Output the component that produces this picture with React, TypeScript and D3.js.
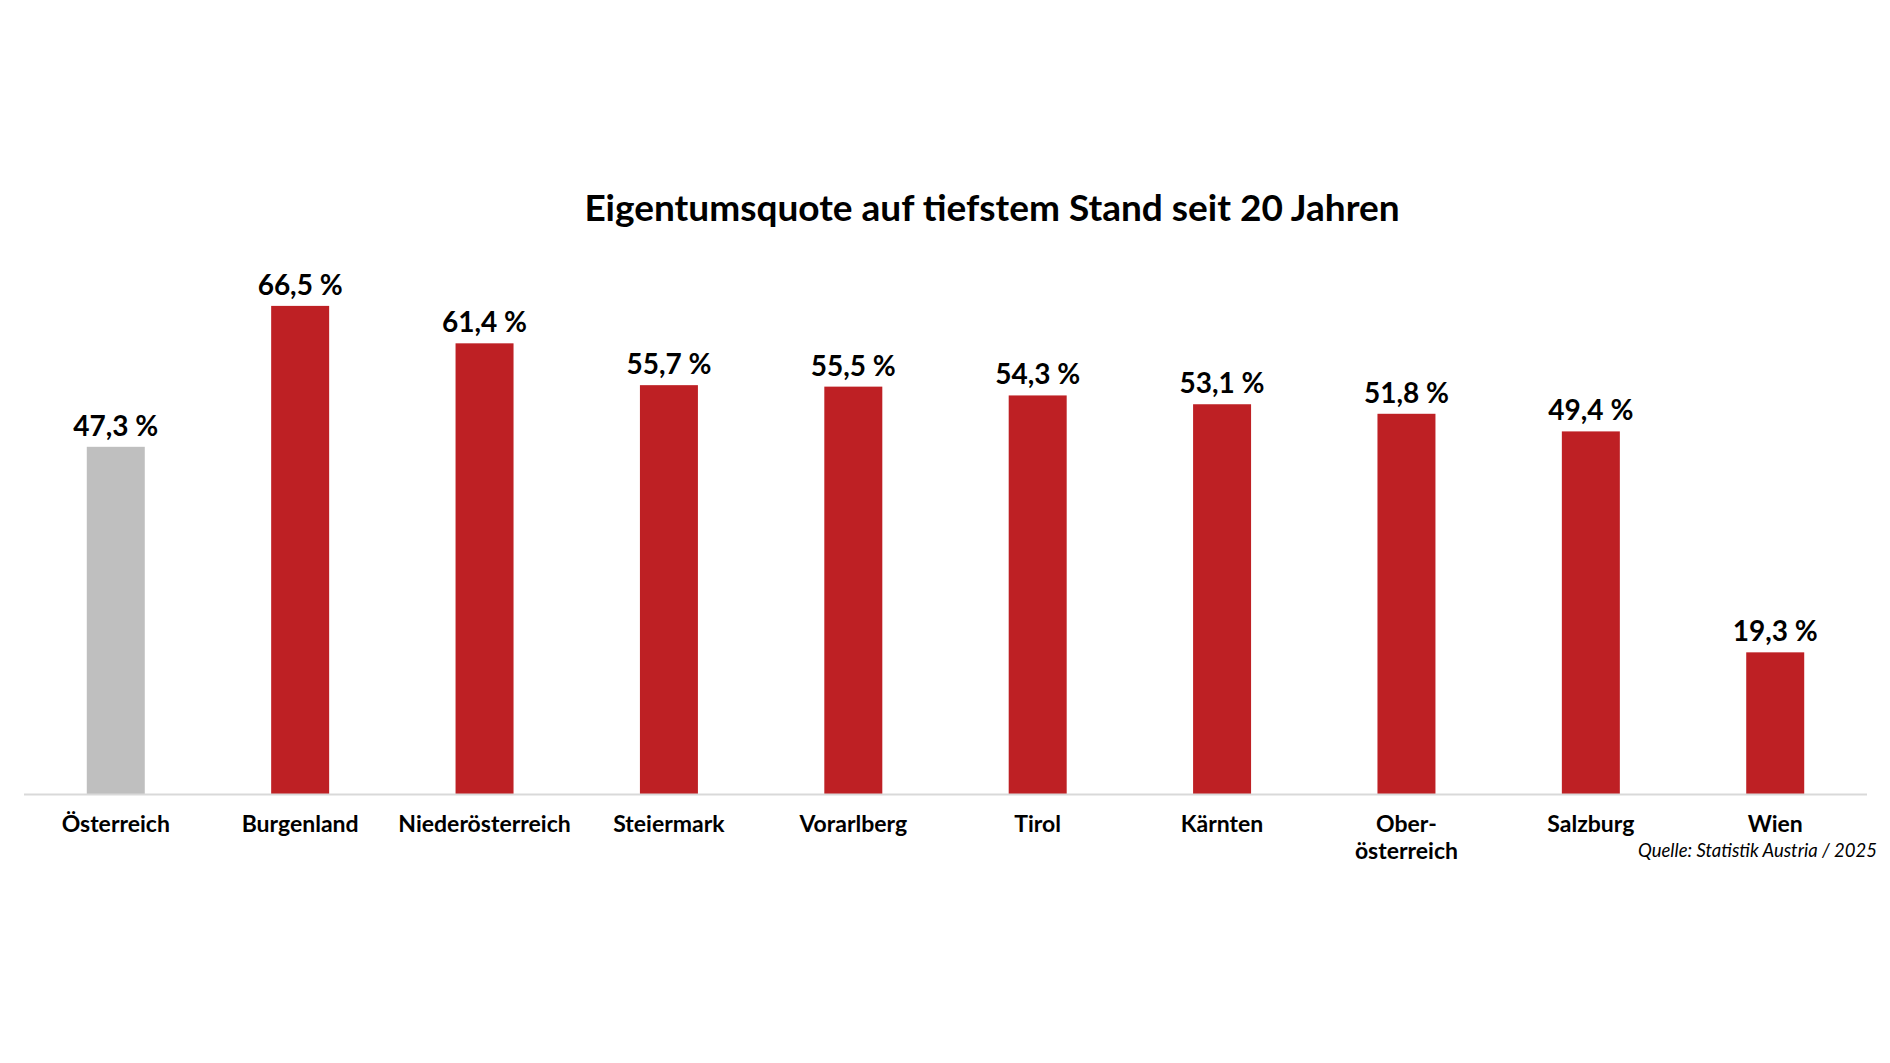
import * as d3 from "d3";
import { useEffect, useRef } from "react";

const regions = [
  "Österreich",
  "Burgenland",
  "Niederösterreich",
  "Steiermark",
  "Vorarlberg",
  "Tirol",
  "Kärnten",
  "Ober-\nösterreich",
  "Salzburg",
  "Wien",
];
const shares = [47.3, 66.5, 61.4, 55.7, 55.5, 54.3, 53.1, 51.8, 49.4, 19.3];
const title = "Eigentumsquote auf tiefstem Stand seit 20 Jahren";
const source = "Quelle: Statistik Austria / 2025";

const RED = "#be2024";
const GREY = "#bfbfbf";
const FONT = "Lato, 'Noto Sans', sans-serif";

export default function App() {
  const svgRef = useRef<SVGSVGElement>(null);
  const width = 1890;
  const height = 1063;

  useEffect(() => {
    const svg = d3.select(svgRef.current).attr("viewBox", `0 0 ${width} ${height}`);
    svg.selectAll("*").remove();

    const baseY = 794;
    const x = d3
      .scaleBand<string>()
      .domain(regions)
      .range([24, 1867])
      .paddingInner(0.6855)
      .paddingOuter(0.3405);
    const y = d3.scaleLinear().domain([0, 100]).range([baseY, 60]);

    const data = regions.map((r, i) => ({ region: r, value: shares[i], idx: i }));

    // title
    svg
      .append("text")
      .attr("x", 992)
      .attr("y", 221)
      .attr("text-anchor", "middle")
      .attr("font-family", FONT)
      .attr("font-weight", 700)
      .attr("font-size", 37)
      .attr("fill", "#000")
      .text(title);

    // bars
    svg
      .append("g")
      .selectAll("rect")
      .data(data)
      .enter()
      .append("rect")
      .attr("x", (d) => x(d.region)!)
      .attr("y", (d) => y(d.value))
      .attr("width", x.bandwidth())
      .attr("height", (d) => baseY - y(d.value))
      .attr("fill", (d) => (d.idx === 0 ? GREY : RED));

    // baseline
    svg
      .append("line")
      .attr("x1", x.range()[0])
      .attr("x2", x.range()[1])
      .attr("y1", baseY + 0.5)
      .attr("y2", baseY + 0.5)
      .attr("stroke", "#d9d9d9")
      .attr("stroke-width", 2);

    // value labels
    svg
      .append("g")
      .selectAll("text")
      .data(data)
      .enter()
      .append("text")
      .attr("x", (d) => x(d.region)! + x.bandwidth() / 2)
      .attr("y", (d) => y(d.value) - 11)
      .attr("text-anchor", "middle")
      .attr("font-family", FONT)
      .attr("font-weight", 700)
      .attr("font-size", 28)
      .attr("fill", "#000")
      .text((d) => `${d.value.toFixed(1).replace(".", ",")} %`);

    // category labels
    const cat = svg
      .append("g")
      .selectAll("text")
      .data(data)
      .enter()
      .append("text")
      .attr("y", 832)
      .attr("text-anchor", "middle")
      .attr("font-family", FONT)
      .attr("font-weight", 700)
      .attr("font-size", 23)
      .attr("fill", "#000");
    cat
      .selectAll("tspan")
      .data((d) => d.region.split("\n").map((t) => ({ t, cx: x(d.region)! + x.bandwidth() / 2 })))
      .enter()
      .append("tspan")
      .attr("x", (d) => d.cx)
      .attr("dy", (_, i) => (i === 0 ? 0 : 27))
      .text((d) => d.t);

    // source
    svg
      .append("text")
      .attr("x", 1877)
      .attr("y", 857)
      .attr("text-anchor", "end")
      .attr("font-family", FONT)
      .attr("font-style", "italic")
      .attr("font-size", 18.5)
      .attr("fill", "#000")
      .text(source);
  }, []);

  return (
    <div style={{ position: "absolute", left: 0, top: 0, width, height, background: "#fff" }}>
      <svg ref={svgRef} width={width} height={height}></svg>
    </div>
  );
}
